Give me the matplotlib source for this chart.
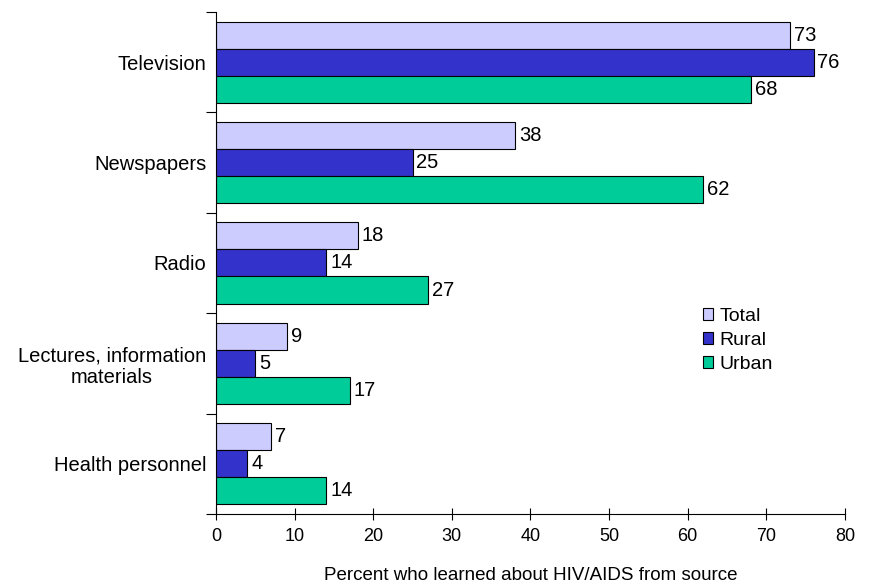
import matplotlib.pyplot as plt
import numpy as np

plt.rcParams["font.family"] = ["Liberation Sans", "DejaVu Sans"]
plt.rcParams["font.size"] = 14.5

sources = [
    "Television",
    "Newspapers",
    "Radio",
    "Lectures, information\nmaterials",
    "Health personnel",
]
total = [73, 38, 18, 9, 7]
rural = [76, 25, 14, 5, 4]
urban = [68, 62, 27, 17, 14]

series = [
    ("Total", total, "#ccccff"),
    ("Rural", rural, "#3333cc"),
    ("Urban", urban, "#00cc99"),
]


def main():
    fig = plt.figure(figsize=(8.77, 5.84), dpi=100)
    ax = fig.add_axes([0.2463, 0.12, 0.7172, 0.8595])

    y = np.arange(len(sources))
    h = 0.27
    for k, (name, vals, color) in enumerate(series):
        pos = y + (k - 1) * h
        ax.barh(pos, vals, height=h, color=color, edgecolor="black",
                linewidth=0.8, label=name)
        for p, v in zip(pos, vals):
            ax.text(v + 0.5, p, str(v), va="center", ha="left", fontsize=14.5)

    ax.set_ylim(len(sources) - 0.5, -0.5)
    ax.set_xlim(0, 80)
    ax.set_xticks(range(0, 81, 10))

    # category separators as major ticks, names on minor ticks
    ax.set_yticks(np.arange(-0.5, len(sources)))
    ax.set_yticklabels([])
    ax.set_yticks(y, minor=True)
    ax.set_yticklabels(sources, minor=True, multialignment="center")
    ax.tick_params(axis="y", which="minor", length=0, pad=7, labelsize=14.5)
    ax.tick_params(axis="y", which="major", length=7, width=0.8, direction="out")
    ax.tick_params(axis="x", length=8, width=0.8, direction="inout", pad=6,
                   labelsize=13)

    for side in ["top", "right"]:
        ax.spines[side].set_visible(False)
    for side in ["left", "bottom"]:
        ax.spines[side].set_linewidth(0.8)

    ax.set_xlabel("Percent who learned about HIV/AIDS from source",
                  fontsize=13.5, labelpad=16)
    ax.legend(loc="upper left", bbox_to_anchor=(0.752, 0.438), frameon=False,
              fontsize=14, handlelength=0.55, handleheight=0.55,
              handletextpad=0.3, labelspacing=0.36, borderpad=0.2)

    plt.savefig("out.png", dpi=100)


if __name__ == "__main__":
    main()
